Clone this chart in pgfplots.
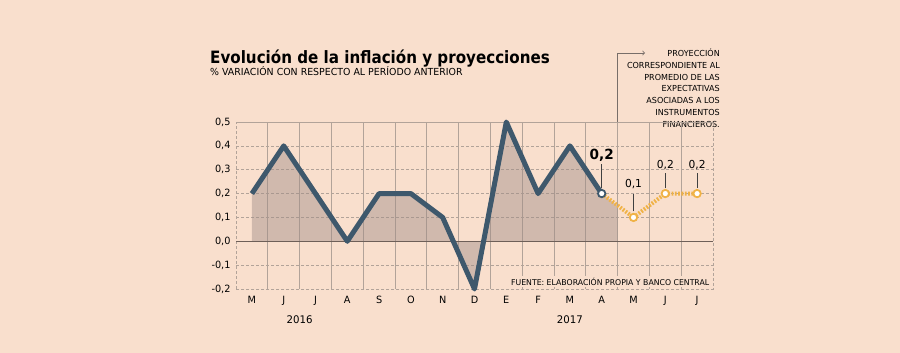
\documentclass[border=0pt]{standalone}
\usepackage{fontspec}
\setmainfont{DejaVu Sans}[FakeStretch=0.97]
\newfontfamily\titlefont{DejaVu Sans}[FakeStretch=0.89]
\usepackage{pgfplots}
\pgfplotsset{compat=1.18}
\definecolor{bg}{RGB}{249,223,205}
\definecolor{lineblue}{RGB}{62,88,108}
\definecolor{proj}{RGB}{240,178,70}
\definecolor{fillc}{RGB}{160,140,135}
\definecolor{gridc}{RGB}{178,163,153}
\definecolor{zeroc}{RGB}{110,95,88}
\definecolor{annc}{RGB}{120,110,105}
\begin{document}
\begin{tikzpicture}[x=1pt,y=1pt]
\fill[bg] (0pt,0pt) rectangle (900pt,353pt);
\useasboundingbox (0pt,0pt) rectangle (900pt,353pt);
\node[anchor=base west, font=\titlefont\bfseries\fontsize{17}{20}\selectfont, inner sep=0] at (210pt,289.5pt) {Evolución de la inflación y proyecciones};
\node[anchor=base west, font=\fontsize{9.7}{11}\selectfont, inner sep=0] at (210pt,277pt) {\% VARIACIÓN CON RESPECTO AL PERÍODO ANTERIOR};
\node[anchor=north east, align=right, inner sep=0, font=\fontsize{8.3}{11.7}\selectfont] at (720pt,304pt) {PROYECCIÓN\\CORRESPONDIENTE AL\\PROMEDIO DE LAS\\EXPECTATIVAS\\ASOCIADAS A LOS\\INSTRUMENTOS\\FINANCIEROS.};
\draw[annc, line width=0.8pt, ->] (617pt,231pt) -- (617pt,300pt) -- (645pt,300pt);
\begin{axis}[at={(236pt,64pt)}, anchor=south west, scale only axis,
  width=477pt, height=167pt,
  xmin=-0.5, xmax=14.5, ymin=-0.2, ymax=0.5,
  axis line style={gridc, densely dashed, line width=0.6pt},
  xtick={0,...,14},
  xticklabels={M,J,J,A,S,O,N,D,E,F,M,A,M,J,J},
  minor xtick={0.5,1.5,...,13.5},
  xminorgrids, minor x grid style={gridc, solid, line width=0.7pt},
  ytick={-0.2,-0.1,0,0.1,0.2,0.3,0.4,0.5},
  ymajorgrids, major y grid style={gridc, densely dashed, line width=0.6pt},
  major tick length=0pt, minor tick length=0pt,
  tick style={draw=none},
  ticklabel style={font=\fontsize{10}{12}\selectfont, text=black},
  xticklabel style={yshift=-4pt},
  yticklabel style={xshift=-2pt, /pgf/number format/.cd, fixed, fixed zerofill, precision=1, use comma, assume math mode=true},
  clip=false]
\addplot[draw=none, fill=fillc, fill opacity=0.45] coordinates {(0,0) (0,0.2) (1,0.4) (2,0.2) (3,0) (4,0.2) (5,0.2) (6,0.1) (7,-0.2) (8,0.5) (9,0.2) (10,0.4) (11,0.2) (11.5,0.15) (11.5,0)} -- cycle;
\draw[zeroc, line width=1.5pt] (axis cs:-0.5,0) -- (axis cs:14.5,0);
\addplot[proj, line width=4pt, dash pattern=on 1.8pt off 1.5pt] coordinates {(11,0.2) (12,0.1) (13,0.2) (14,0.2)};
\addplot[lineblue, line width=5pt, line join=round] coordinates {(0,0.2) (1,0.4) (2,0.2) (3,0) (4,0.2) (5,0.2) (6,0.1) (7,-0.2) (8,0.5) (9,0.2) (10,0.4) (11,0.2)};
\addplot[only marks, mark=*, mark size=3.7pt, mark options={fill=white, draw=proj, line width=1.8pt}] coordinates {(12,0.1) (13,0.2) (14,0.2)};
\addplot[only marks, mark=*, mark size=3.7pt, mark options={fill=white, draw=lineblue, line width=1.8pt}] coordinates {(11,0.2)};
\draw[black!75, line width=0.6pt] (axis cs:11,0.225) -- (axis cs:11,0.325);
\draw[black!75, line width=0.6pt] (axis cs:12,0.125) -- (axis cs:12,0.2);
\draw[black!75, line width=0.6pt] (axis cs:13,0.225) -- (axis cs:13,0.285);
\draw[black!75, line width=0.6pt] (axis cs:14,0.225) -- (axis cs:14,0.285);
\node[font=\bfseries\fontsize{14}{16}\selectfont] at (axis cs:11,0.36) {0,2};
\node[font=\fontsize{11}{13}\selectfont] at (axis cs:12,0.239) {0,1};
\node[font=\fontsize{11}{13}\selectfont] at (axis cs:13,0.318) {0,2};
\node[font=\fontsize{11}{13}\selectfont] at (axis cs:14,0.318) {0,2};
\node[anchor=east, fill=bg, inner sep=2pt, font=\fontsize{8}{10}\selectfont] at (axis cs:14.45,-0.168) {FUENTE: ELABORACIÓN PROPIA Y BANCO CENTRAL};
\node[font=\fontsize{10.5}{12}\selectfont] at (axis cs:1.5,-0.2) [yshift=-31pt] {2016};
\node[font=\fontsize{10.5}{12}\selectfont] at (axis cs:10,-0.2) [yshift=-31pt] {2017};
\end{axis}
\end{tikzpicture}
\end{document}
